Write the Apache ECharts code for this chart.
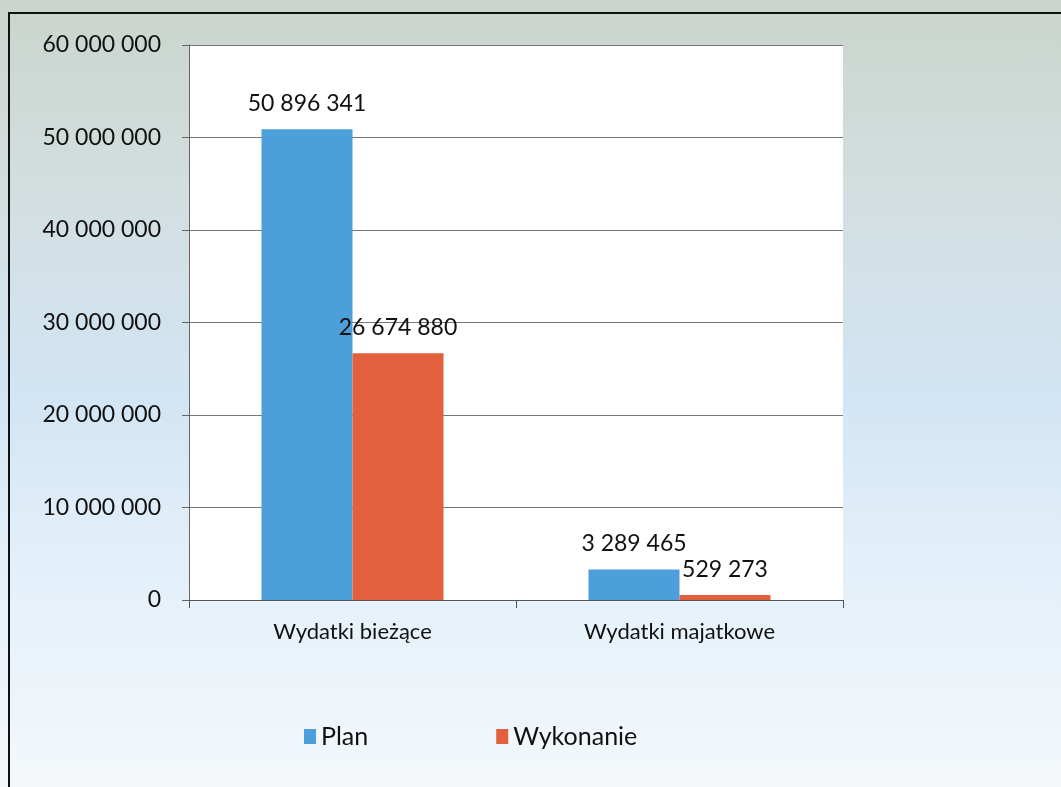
<!DOCTYPE html>
<html>
<head>
<meta charset="utf-8">
<script src="https://cdn.jsdelivr.net/npm/echarts@6/dist/echarts.min.js"></script>
<style>
  html, body { margin: 0; padding: 0; }
  body {
    width: 1061px; height: 787px; overflow: hidden;
    background: linear-gradient(to bottom, #cbd5cd 0%, #d3dee0 25%, #d2e5f4 50%, #e2eff9 70%, #f4f8fb 100%);
  }
  #chart {
    position: absolute; left: 8px; top: 12px; width: 1053px; height: 775px;
    border-left: 2px solid #111; border-top: 2px solid #111; box-sizing: border-box;
  }
</style>
</head>
<body>
<div id="chart"></div>
<script>
  var categories = ['Wydatki bieżące', 'Wydatki majatkowe'];
  var planValues = [50896341, 3289465];
  var wykonanieValues = [26674880, 529273];
  var yTicks = [0, 10000000, 20000000, 30000000, 40000000, 50000000, 60000000];

  var fontFamily = 'Lato, "Open Sans", sans-serif';

  function spaced(v) {
    return String(v).replace(/\B(?=(\d{3})+(?!\d))/g, ' ');
  }

  var myChart = echarts.init(document.getElementById('chart'));
  myChart.setOption({
    backgroundColor: 'transparent',
    color: ['#4c9fd8', '#e3603f'],
    textStyle: { fontFamily: fontFamily },
    grid: {
      left: 179, right: 218, top: 31, bottom: 187,
      show: true, backgroundColor: '#ffffff', borderWidth: 0
    },
    legend: {
      left: 289, top: 705,
      icon: 'rect', itemWidth: 12, itemHeight: 15, itemGap: 128,
      textStyle: { fontSize: 25, color: '#111', fontFamily: fontFamily },
      data: ['Plan', 'Wykonanie']
    },
    xAxis: {
      type: 'category',
      data: categories,
      axisLine: { lineStyle: { color: '#555', width: 1 } },
      axisTick: { show: true, length: 8, lineStyle: { color: '#555' } },
      axisLabel: { fontSize: 22, color: '#111', margin: 21, fontFamily: fontFamily }
    },
    yAxis: {
      type: 'value',
      min: yTicks[0], max: yTicks[yTicks.length - 1], interval: 10000000,
      axisLine: { show: true, lineStyle: { color: '#666' } },
      axisTick: { show: true, length: 7, lineStyle: { color: '#666' } },
      splitLine: { lineStyle: { color: '#777', width: 1 } },
      axisLabel: {
        fontSize: 23, color: '#111', margin: 28, fontFamily: fontFamily,
        formatter: function (v) { return spaced(v); }
      }
    },
    series: [
      {
        name: 'Plan',
        type: 'bar',
        data: planValues,
        barWidth: 91,
        barGap: '0%',
        label: {
          show: true, position: 'top', distance: 14,
          fontSize: 23, color: '#111', fontFamily: fontFamily,
          formatter: function (p) { return spaced(p.value); }
        }
      },
      {
        name: 'Wykonanie',
        type: 'bar',
        data: wykonanieValues,
        barWidth: 91,
        label: {
          show: true, position: 'top', distance: 14,
          fontSize: 23, color: '#111', fontFamily: fontFamily,
          formatter: function (p) { return spaced(p.value); }
        }
      }
    ]
  });
</script>
</body>
</html>
